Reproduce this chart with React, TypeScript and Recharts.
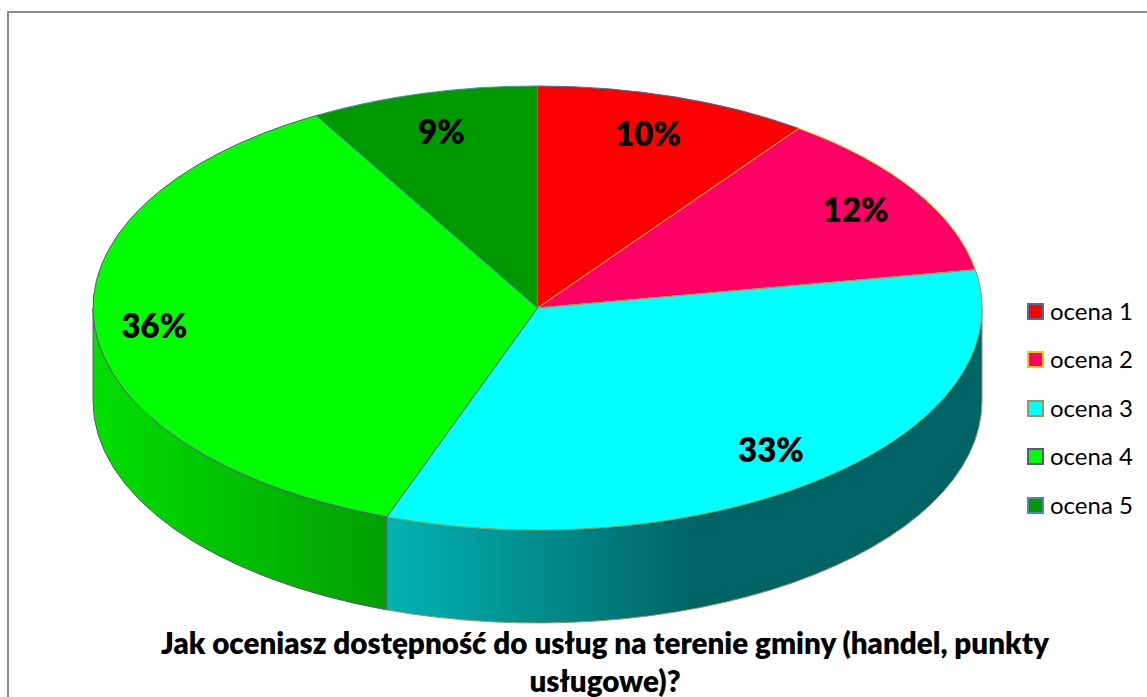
import { PieChart, Pie, Legend } from 'recharts'

const categories = ['ocena 1', 'ocena 2', 'ocena 3', 'ocena 4', 'ocena 5']
// slice sizes: the 3D view bends them a little away from the printed figures
const sliceShares = [10, 12.25, 33.25, 36.2, 8.3]
const printedLabels = ['10%', '12%', '33%', '36%', '9%']
const titleLines = ['Jak oceniasz dostępność do usług na terenie gminy (handel, punkty', 'usługowe)?']

const fills = ['#ff0000', '#ff0066', '#00ffff', '#00ff00', '#009900']
const edges = ['#4a6f9e', '#ffc000', '#8f9c5a', '#6a4f8c', '#4a8ca8']

const FONT = 'Lato, "Open Sans", sans-serif'
const WIDTH = 1147
const HEIGHT = 697
const CX = 537.5
const CY = 308
const RX = 444.5
const RY = 222
const DEPTH = 93

// only the two front slices show a side wall
const wallShades: Record<string, { x1: number; x2: number; from: string; to: string }> = {
  'ocena 3': { x1: 386, x2: 700, from: '#00b4b4', to: '#006464' },
  'ocena 4': { x1: 93, x2: 386, from: '#00e000', to: '#00a000' },
}

// nudges so the percentages sit where the original put them
const labelShift = [
  [-2, -2],
  [9, -3],
  [-1, 2],
  [-20, 1],
  [-2, -1],
]

const rows = categories.map((name, i) => ({ name, value: sliceShares[i], fill: fills[i], stroke: edges[i] }))

const pt = (deg: number, dy = 0) => {
  const a = (deg * Math.PI) / 180
  return `${CX + RX * Math.cos(a)} ${CY - RY * Math.sin(a) + dy}`
}

function Slice3D(props: any) {
  const { startAngle, endAngle, fill, stroke, name } = props
  const large = Math.abs(startAngle - endAngle) > 180 ? 1 : 0
  const top = `M${CX} ${CY} L${pt(startAngle)} A${RX} ${RY} 0 ${large} 1 ${pt(endAngle)} Z`
  const from = Math.min(startAngle, 0)
  const to = Math.max(endAngle, -180)
  const hasWall = from > to
  const wallLarge = from - to > 180 ? 1 : 0
  const wall = `M${pt(from)} A${RX} ${RY} 0 ${wallLarge} 1 ${pt(to)} L${pt(to, DEPTH)} A${RX} ${RY} 0 ${wallLarge} 0 ${pt(from, DEPTH)} Z`
  return (
    <g>
      {hasWall && <path d={wall} fill={`url(#wall-${name.replace(' ', '')})`} stroke={stroke} strokeWidth={1} />}
      <path d={top} fill={fill} stroke={stroke} strokeWidth={1} />
    </g>
  )
}

function PercentLabel(props: any) {
  const { midAngle, index } = props
  const a = (midAngle * Math.PI) / 180
  const x = CX + 0.82 * RX * Math.cos(a) + labelShift[index][0]
  const y = CY - 0.82 * RY * Math.sin(a) + labelShift[index][1]
  return (
    <text x={x} y={y} textAnchor="middle" dominantBaseline="central" fontFamily={FONT} fontSize={33} fontWeight={800} fill="#000">
      {printedLabels[index]}
    </text>
  )
}

function LegendList({ payload }: any) {
  return (
    <div style={{ fontFamily: FONT, fontSize: 24, color: '#000' }}>
      {(payload || []).map((p: any, i: number) => (
        <div key={p.value} style={{ height: 48.5, display: 'flex', alignItems: 'center' }}>
          <span
            style={{
              width: 13,
              height: 13,
              flexShrink: 0,
              background: fills[i],
              border: `2px solid ${edges[i]}`,
              marginRight: 6,
            }}
          />
          <span style={{ position: 'relative', top: -1 }}>{p.value}</span>
        </div>
      ))}
    </div>
  )
}

export default function App() {
  return (
    <div style={{ position: 'absolute', left: 0, top: 0, width: WIDTH, height: HEIGHT, overflow: 'hidden', background: '#fff' }}>
      <div style={{ position: 'absolute', left: 7, top: 11, width: WIDTH, height: HEIGHT, borderLeft: '2px solid #8c8c8c', borderTop: '2px solid #8c8c8c' }} />
      <div style={{ position: 'absolute', left: 0, top: 0 }}>
        <PieChart width={WIDTH} height={HEIGHT} margin={{ top: 0, right: 0, bottom: 0, left: 0 }}>
          <defs>
            {Object.entries(wallShades).map(([name, s]) => (
              <linearGradient key={name} id={`wall-${name.replace(' ', '')}`} gradientUnits="userSpaceOnUse" x1={s.x1} x2={s.x2} y1={0} y2={0}>
                <stop offset="0" stopColor={s.from} />
                <stop offset="1" stopColor={s.to} />
              </linearGradient>
            ))}
          </defs>
          <Pie
            data={rows}
            dataKey="value"
            nameKey="name"
            cx={CX}
            cy={CY}
            outerRadius={RX}
            startAngle={90}
            endAngle={-270}
            paddingAngle={0}
            shape={Slice3D}
            label={PercentLabel}
            labelLine={false}
            isAnimationActive={false}
          />
          <Legend
            layout="vertical"
            align="right"
            verticalAlign="top"
            content={LegendList}
            wrapperStyle={{ left: 1027, top: 287, width: 120 }}
          />
          {titleLines.map((line, i) => (
            <text key={line} x={605} y={654 + i * 38} textAnchor="middle" fontFamily={FONT} fontSize={29.6} fontWeight={800} fill="#000">
              {line}
            </text>
          ))}
        </PieChart>
      </div>
    </div>
  )
}
